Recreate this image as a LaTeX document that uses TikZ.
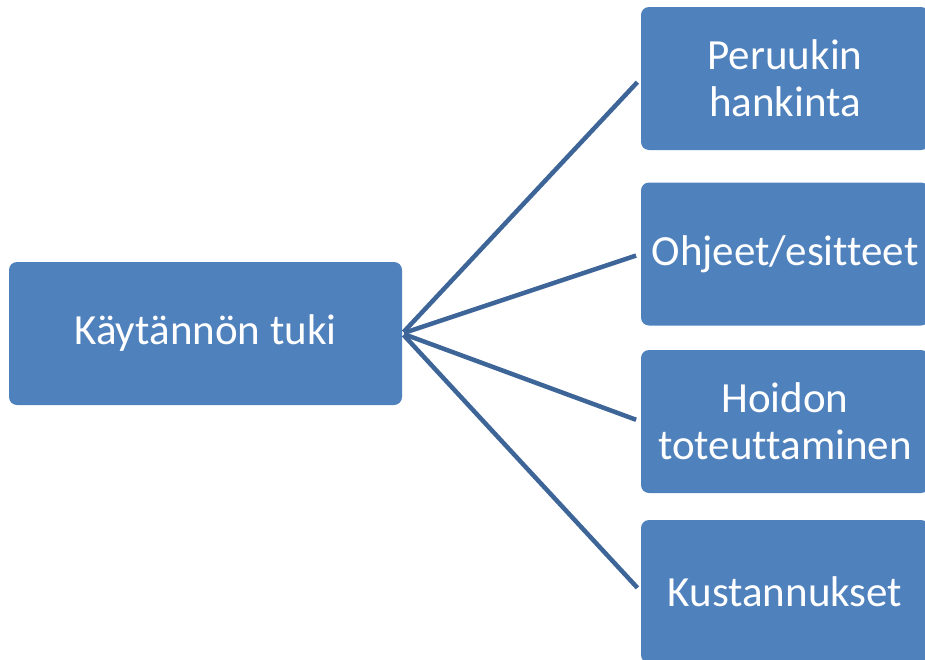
\documentclass[tikz,border=0pt]{standalone}
\usepackage{fontspec}
\setmainfont{Carlito}[RawFeature={-liga;-clig;-dlig}]
\definecolor{boxblue}{HTML}{4F81BD}
\definecolor{linkblue}{HTML}{3D6598}
\tikzset{
  topic/.style={rectangle, rounded corners=8pt, fill=boxblue, text=white,
    align=center, inner sep=0pt, minimum height=143pt,
    font=\fontsize{43}{47}\selectfont},
  link/.style={draw=linkblue, line width=4.5pt, shorten >=5pt, shorten <=2pt}
}
\begin{document}
\begin{tikzpicture}[x=1pt,y=-1pt]
  \useasboundingbox (0,0) rectangle (925,659);
  \clip (0,0) rectangle (925,659);
  \node[topic, minimum width=393pt] (tuki) at (205.5,333.5) {Käytännön tuki};
  \node[topic, minimum width=288pt] (peruukki) at (785,78.5) {Peruukin\\hankinta};
  \node[topic, minimum width=288pt] (ohjeet) at (785,254) {Ohjeet/esitteet};
  \node[topic, minimum width=288pt] (hoito) at (785,421.5) {Hoidon\\toteuttaminen};
  \node[topic, minimum width=288pt] (kulut) at (785,591.5) {Kustannukset};
  \begin{scope}[link]
    \draw (tuki.east) to (peruukki.west);
    \draw (tuki.east) to (ohjeet.west);
    \draw (tuki.east) to (hoito.west);
    \draw (tuki.east) to (kulut.west);
  \end{scope}
\end{tikzpicture}
\end{document}
